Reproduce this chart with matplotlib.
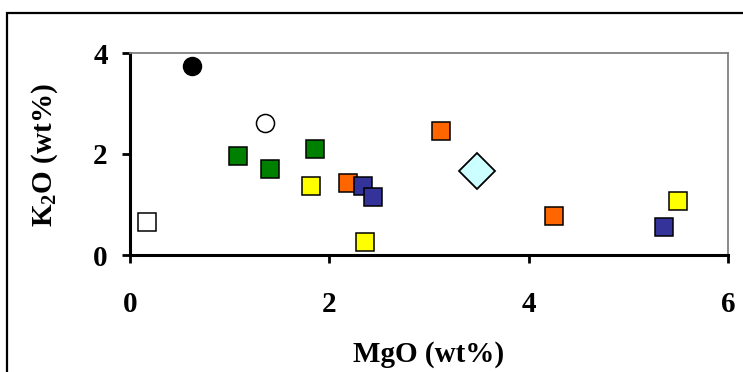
import matplotlib
matplotlib.use("Agg")
import matplotlib.pyplot as plt
from matplotlib.patches import Rectangle

# MgO / K2O (wt%) per group
black_mgo = [0.62]
black_k2o = [3.74]
open_circle_mgo = [1.35]
open_circle_k2o = [2.61]
open_square_mgo = [0.17]
open_square_k2o = [0.65]
green_mgo = [1.08, 1.40, 1.86]
green_k2o = [1.96, 1.70, 2.10]
yellow_mgo = [1.82, 2.36, 5.50]
yellow_k2o = [1.37, 0.26, 1.07]
orange_mgo = [2.19, 3.12, 4.25]
orange_k2o = [1.43, 2.46, 0.77]
blue_mgo = [2.34, 2.44, 5.36]
blue_k2o = [1.37, 1.15, 0.55]
diamond_mgo = [3.48]
diamond_k2o = [1.66]

x_ticks = [0, 2, 4, 6]
y_ticks = [0, 2, 4]

plt.rcParams["font.family"] = ["Liberation Serif", "DejaVu Serif"]
plt.rcParams["font.weight"] = "bold"
plt.rcParams["mathtext.default"] = "regular"

fig = plt.figure(figsize=(7.43, 3.72), dpi=100)
ax = fig.add_axes([130 / 743, 1 - 255 / 372, 598 / 743, 202 / 372])

sq = dict(marker="s", linestyle="none", markersize=13, markeredgecolor="black",
          markeredgewidth=1.1, clip_on=False)
ax.plot(open_square_mgo, open_square_k2o, markerfacecolor="white", **sq)
ax.plot(green_mgo, green_k2o, markerfacecolor="#008000", **sq)
ax.plot(yellow_mgo, yellow_k2o, markerfacecolor="#ffff00", **sq)
ax.plot(orange_mgo, orange_k2o, markerfacecolor="#ff6600", **sq)
ax.plot(blue_mgo, blue_k2o, markerfacecolor="#333399", **sq)
ax.plot(diamond_mgo, diamond_k2o, marker="D", linestyle="none", markersize=18,
        markerfacecolor="#ccffff", markeredgecolor="black", markeredgewidth=1.3)
ax.plot(black_mgo, black_k2o, marker="o", linestyle="none", markersize=13,
        markerfacecolor="black", markeredgecolor="black")
ax.plot(open_circle_mgo, open_circle_k2o, marker="o", linestyle="none", markersize=13,
        markerfacecolor="white", markeredgecolor="black", markeredgewidth=1.1)

ax.set_xlim(0, 6)
ax.set_ylim(0, 4)
ax.set_xticks(x_ticks)
ax.set_yticks(y_ticks)
ax.tick_params(axis="both", direction="out", length=6, width=2, labelsize=21)
ax.tick_params(axis="x", pad=20)
ax.tick_params(axis="y", pad=10)
for lab in ax.get_xticklabels() + ax.get_yticklabels():
    lab.set_fontweight("bold")

for side in ("left", "bottom"):
    ax.spines[side].set_linewidth(2.2)
    ax.spines[side].set_color("black")
for side in ("top", "right"):
    ax.spines[side].set_linewidth(1.3)
    ax.spines[side].set_color("#808080")

fig.text(429 / 743, 1 - 355 / 372, "MgO (wt%)", ha="center", va="center",
         fontsize=21, fontweight="bold")
fig.text(45 / 743, 1 - 155 / 372, "K$_2$O (wt%)", ha="center", va="center",
         rotation=90, fontsize=21, fontweight="bold")

fig.patches.append(Rectangle((7 / 743, -0.1), 1.0, 1 - 13 / 372 + 0.1,
                             transform=fig.transFigure, fill=False,
                             edgecolor="black", linewidth=1.6))

fig.savefig("out.png", dpi=100)
